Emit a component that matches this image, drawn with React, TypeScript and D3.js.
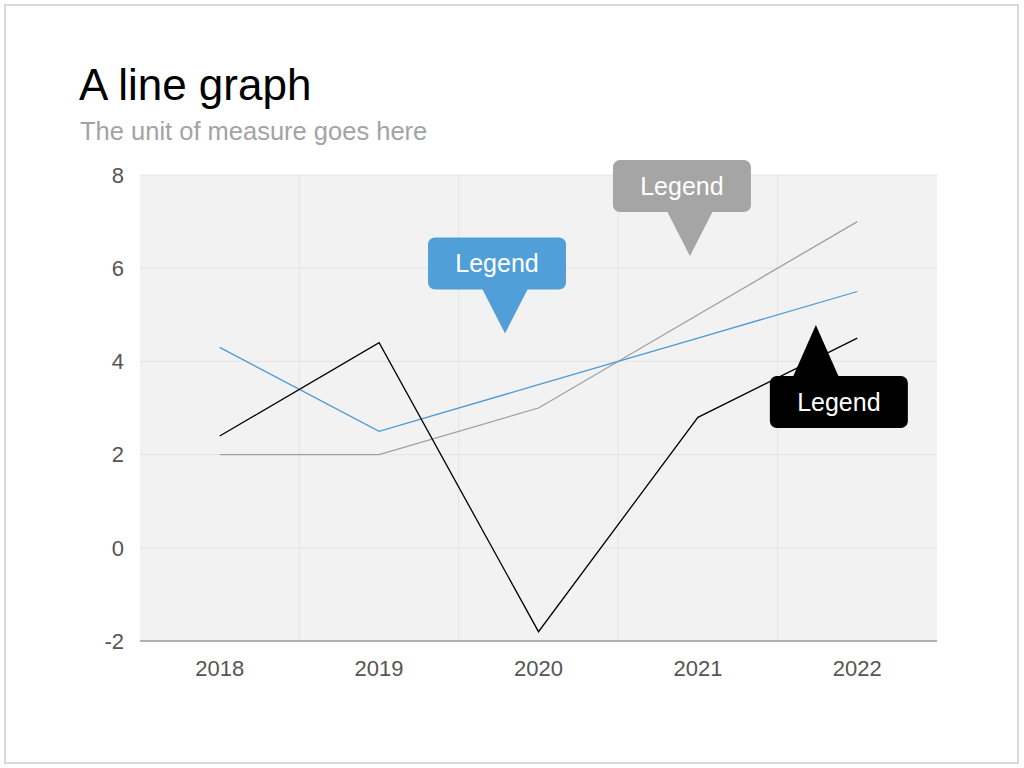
import { useEffect, useRef } from "react"
import * as d3 from "d3"

const years = ["2018", "2019", "2020", "2021", "2022"]
const blackSeries = [2.4, 4.4, -1.8, 2.8, 4.5]
const blueSeries = [4.3, 2.5, 3.5, 4.5, 5.5]
const greySeries = [2, 2, 3, 5, 7]
const yTicks = [-2, 0, 2, 4, 6, 8]

// callouts: anchor point in data terms (fractional year index, value)
const callouts = [
  { label: "Legend", color: "#519fd9", at: 1.79, value: 4.6, dir: "down" },
  { label: "Legend", color: "#a5a5a5", at: 2.95, value: 6.26, dir: "down" },
  { label: "Legend", color: "#000000", at: 3.74, value: 4.78, dir: "up" },
]

const W = 1024
const H = 768
const left = 140
const right = 937
const top = 175
const bottom = 641

const App = () => {
  const svgRef = useRef<SVGSVGElement>(null)

  useEffect(() => {
    const svg = d3.select(svgRef.current)
    svg.selectAll("*").remove()
    svg.attr("viewBox", [0, 0, W, H]).attr("font-family", "'Liberation Sans', Arial, sans-serif")

    // frame
    svg.append("rect")
      .attr("x", 5).attr("y", 5).attr("width", 1013).attr("height", 758)
      .attr("fill", "#fff").attr("stroke", "#d9d9d9").attr("stroke-width", 2)

    // title
    svg.append("text").attr("x", 79).attr("y", 100)
      .attr("font-size", 44).attr("fill", "#000").text("A line graph")
    svg.append("text").attr("x", 80).attr("y", 140)
      .attr("font-size", 25.5).attr("fill", "#a3a3a3").text("The unit of measure goes here")

    const x = d3.scalePoint().domain(years).range([left, right]).padding(0.5)
    const y = d3.scaleLinear().domain([-2, 8]).range([bottom, top])
    const step = x.step()
    const xi = (i: number) => x(years[0])! + i * step

    // plot background
    svg.append("rect")
      .attr("x", left).attr("y", top).attr("width", right - left).attr("height", bottom - top)
      .attr("fill", "#f2f2f2")

    // grid
    const grid = svg.append("g").attr("stroke", "#e4e4e4").attr("stroke-width", 1)
    grid.selectAll("line.h")
      .data(yTicks.filter(t => t > -2))
      .join("line")
        .attr("x1", left).attr("x2", right)
        .attr("y1", d => y(d)).attr("y2", d => y(d))
    grid.selectAll("line.v")
      .data(years.slice(1))
      .join("line")
        .attr("x1", d => x(d)! - step / 2).attr("x2", d => x(d)! - step / 2)
        .attr("y1", top).attr("y2", bottom)

    // x axis
    svg.append("line")
      .attr("x1", left).attr("x2", right).attr("y1", bottom).attr("y2", bottom)
      .attr("stroke", "#9a9a9a").attr("stroke-width", 1.5)

    svg.append("g")
        .attr("text-anchor", "middle").attr("font-size", 22).attr("fill", "#555")
      .selectAll("text")
      .data(years)
      .join("text")
        .attr("x", d => x(d)!)
        .attr("y", 676)
        .text(d => d)

    svg.append("g")
        .attr("text-anchor", "end").attr("font-size", 22).attr("fill", "#555")
      .selectAll("text")
      .data(yTicks)
      .join("text")
        .attr("x", 124)
        .attr("y", d => y(d))
        .attr("dy", "0.35em")
        .text(d => d)

    // lines
    const line = d3.line<number>()
      .x((_, i) => x(years[i])!)
      .y(d => y(d))

    const series = [
      { values: greySeries, color: "#9f9f9f" },
      { values: blueSeries, color: "#4a9ad8" },
      { values: blackSeries, color: "#000" },
    ]
    svg.append("g").attr("fill", "none")
      .selectAll("path")
      .data(series)
      .join("path")
        .attr("d", d => line(d.values))
        .attr("stroke", d => d.color)
        .attr("stroke-width", 1.3)

    // callouts
    const bw = 138
    const bh = 52
    const th = 44
    const tw = 46
    callouts.forEach(c => {
      const tx = xi(c.at)
      const ty = y(c.value)
      const g = svg.append("g")
      let bx: number, by: number, tri: [number, number][]
      if (c.dir === "down") {
        bx = tx - 77
        by = ty - th - bh
        tri = [[tx - tw / 2, by + bh - 1], [tx + tw / 2, by + bh - 1], [tx, ty]]
      } else {
        bx = tx - 46
        by = ty + th + 7
        tri = [[tx - tw / 2, by + 1], [tx + tw / 2, by + 1], [tx, ty]]
      }
      g.append("rect")
        .attr("x", bx).attr("y", by).attr("width", bw).attr("height", bh)
        .attr("rx", 7).attr("fill", c.color)
      g.append("path")
        .attr("d", d3.line()(tri) + "Z")
        .attr("fill", c.color)
      g.append("text")
        .attr("x", bx + bw / 2).attr("y", by + bh / 2)
        .attr("dy", "0.36em")
        .attr("text-anchor", "middle")
        .attr("font-size", 25).attr("fill", "#fff")
        .text(c.label)
    })
  }, [])

  return (
    <div style={{ position: "absolute", left: 0, top: 0 }}>
      <svg ref={svgRef} width={W} height={H} style={{ display: "block" }} />
    </div>
  )
}

export default App
